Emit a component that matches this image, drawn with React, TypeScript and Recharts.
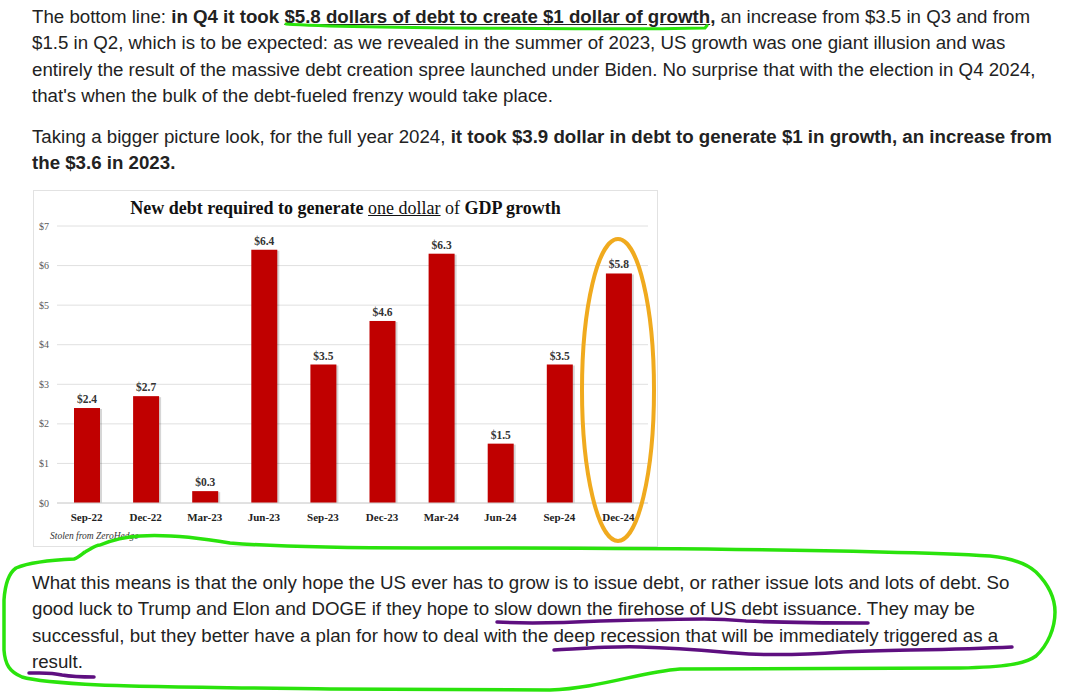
import { BarChart, Bar, XAxis, YAxis, CartesianGrid, LabelList } from "recharts"

// quarters on the x axis and the debt needed per $1 of GDP growth
const quarters = ["Sep-22", "Dec-22", "Mar-23", "Jun-23", "Sep-23", "Dec-23", "Mar-24", "Jun-24", "Sep-24", "Dec-24"]
const debtPerDollar = [2.4, 2.7, 0.3, 6.4, 3.5, 4.6, 6.3, 1.5, 3.5, 5.8]
const yTicks = [0, 1, 2, 3, 4, 5, 6, 7]

const chartData = quarters.map((q, i) => ({ quarter: q, value: debtPerDollar[i] }))

const serif = '"Liberation Serif", "DejaVu Serif", serif'
const sans = '"Liberation Sans", Arial, sans-serif'

const ShadowBar = (props: any) => {
    const { x, y, width, height, fill } = props
    if (!height || height <= 0) return null
    return (
        <g>
            <rect x={x + 2} y={y + 1} width={width} height={height - 1} fill="#000" fillOpacity={0.16} />
            <rect x={x} y={y} width={width} height={height} fill={fill} />
        </g>
    )
}

const para = {
    position: "absolute" as const,
    left: 32,
    margin: 0,
    fontFamily: sans,
    fontSize: 18.7,
    lineHeight: "26.3px",
    color: "#222",
    whiteSpace: "nowrap" as const,
}

function DebtChart() {
    return (
        <div style={{ position: "absolute", left: 33, top: 190, width: 625, height: 357, border: "1px solid #e2e2e2", boxSizing: "border-box", background: "#fff" }}>
            <div style={{ position: "absolute", left: 0, right: 0, top: 7, textAlign: "center", fontFamily: serif, fontSize: 18, lineHeight: "20px", fontWeight: 700, color: "#111" }}>
                New debt required to generate <span style={{ textDecoration: "underline", fontWeight: 400 }}>one dollar</span> <span style={{ fontWeight: 400 }}>of</span> GDP growth
            </div>
            <BarChart width={622} height={354} data={chartData} margin={{ top: 35, right: 8, bottom: 12, left: 0 }}>
                <CartesianGrid vertical={false} stroke="#e0e0e0" />
                <XAxis
                    dataKey="quarter"
                    tickLine={false}
                    axisLine={{ stroke: "#d4d4d4" }}
                    tickMargin={4}
                    height={30}
                    interval={0}
                    tick={{ fontFamily: serif, fontSize: 11, fontWeight: 700, fill: "#222" }}
                />
                <YAxis
                    width={23}
                    domain={[0, 7]}
                    ticks={yTicks}
                    tickLine={false}
                    axisLine={false}
                    tickFormatter={(v: number) => `$${v}`}
                    tick={{ fontFamily: serif, fontSize: 10, fill: "#5a5a5a" }}
                />
                <Bar dataKey="value" fill="#c00000" barSize={26} shape={<ShadowBar />} isAnimationActive={false}>
                    <LabelList
                        dataKey="value"
                        position="top"
                        offset={5}
                        formatter={(v: any) => `$${v}`}
                        style={{ fontFamily: serif, fontSize: 11.5, fontWeight: 700, fill: "#333" }}
                    />
                </Bar>
            </BarChart>
            <div style={{ position: "absolute", left: 16, top: 340, fontFamily: serif, fontStyle: "italic", fontSize: 9.5, color: "#333" }}>
                Stolen from ZeroHedge
            </div>
        </div>
    )
}

// hand drawn marks on top of the page
function Scribbles() {
    const green = "#2ae30c"
    const purple = "#5e0f80"
    return (
        <svg width={1074} height={695} style={{ position: "absolute", left: 0, top: 0, pointerEvents: "none" }}>
            <path d="M286 24 C330 27 420 28 540 28.5 S660 29 705 28 L707 25.5" fill="none" stroke={green} strokeWidth={3} strokeLinecap="round" />
            <ellipse cx={618} cy={390} rx={36} ry={151} fill="none" stroke="#f0aa1e" strokeWidth={4} />
            <path
                d="M85 552 C92 548 96 545 100 545 C112 540 122 537 140 536 C170 534 200 538 230 543 C280 547 330 548 420 548 C600 548 760 549 880 552 C930 553 960 554 990 556 C1010 558 1025 562 1036 572 C1048 584 1055 598 1055 612 C1055 628 1048 645 1036 656 C1025 664 1005 667 960 668 L680 669 C640 672 600 688 550 690 L330 689 C250 688 150 687 100 685 C60 683 35 681 22 677 C10 672 5 665 4 650 L4 600 C5 585 9 573 16 568 C28 563 50 560 74 559 C78 558 81 555 85 552"
                fill="none"
                stroke={green}
                strokeWidth={3.5}
                strokeLinejoin="round"
            />
            <path d="M497 622 C530 624 560 623 600 621 C640 620 680 619 704 619 C725 619 735 620 746 621 C790 623 830 623 868 623" fill="none" stroke={purple} strokeWidth={3.5} strokeLinecap="round" />
            <path d="M554 650 C590 648 615 646 640 647 C680 648 700 650 735 653 C770 656 800 655 843 652 C890 650 950 650 1012 647" fill="none" stroke={purple} strokeWidth={3.5} strokeLinecap="round" />
            <path d="M29 673 C40 673 50 672 62 675 C74 677 84 677 94 677" fill="none" stroke={purple} strokeWidth={3.5} strokeLinecap="round" />
        </svg>
    )
}

export default function App() {
    return (
        <div style={{ position: "absolute", left: 0, top: 0, width: 1074, height: 695, background: "#fff", overflow: "hidden" }}>
            <p style={{ ...para, top: 4 }}>
                The bottom line: <b>in Q4 it took <span style={{ textDecoration: "underline" }}>$5.8 dollars of debt to create $1 dollar of growth</span>,</b> an increase from $3.5 in Q3 and from<br />
                $1.5 in Q2, which is to be expected: as we revealed in the summer of 2023, US growth was one giant illusion and was<br />
                entirely the result of the massive debt creation spree launched under Biden. No surprise that with the election in Q4 2024,<br />
                that's when the bulk of the debt-fueled frenzy would take place.
            </p>
            <p style={{ ...para, top: 124 }}>
                Taking a bigger picture look, for the full year 2024, <b>it took $3.9 dollar in debt to generate $1 in growth, an increase from</b><br />
                <b>the $3.6 in 2023.</b>
            </p>
            <DebtChart />
            <p style={{ ...para, top: 570 }}>
                What this means is that the only hope the US ever has to grow is to issue debt, or rather issue lots and lots of debt. So<br />
                good luck to Trump and Elon and DOGE if they hope to slow down the firehose of US debt issuance. They may be<br />
                successful, but they better have a plan for how to deal with the deep recession that will be immediately triggered as a<br />
                result.
            </p>
            <Scribbles />
        </div>
    )
}
